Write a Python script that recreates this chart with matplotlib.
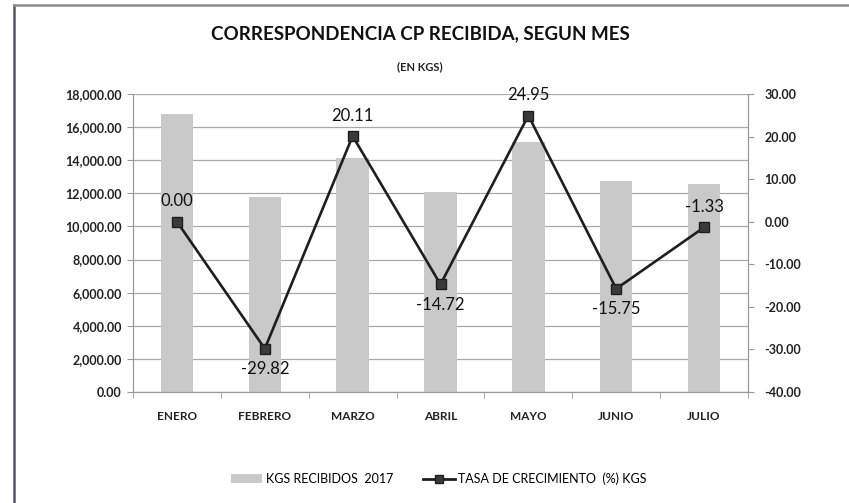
import matplotlib
matplotlib.use("Agg")
import matplotlib.pyplot as plt
from matplotlib.ticker import FuncFormatter, MultipleLocator
from matplotlib.lines import Line2D
from matplotlib.patches import Patch

months = ["ENERO", "FEBRERO", "MARZO", "ABRIL", "MAYO", "JUNIO", "JULIO"]
kgs = [16800, 11790, 14160, 12080, 15090, 12720, 12550]
rate = [0.00, -29.82, 20.11, -14.72, 24.95, -15.75, -1.33]
label_above = [True, False, True, False, True, False, True]

plt.rcParams['font.family'] = ['Lato', 'DejaVu Sans']

W, H = 849, 503
fig = plt.figure(figsize=(8.49, 5.03), dpi=100)
fig.patch.set_facecolor('white')
# chart frame (continues beyond the picture on the right and bottom)
fig.add_artist(Line2D([14 / W, 14 / W], [0, 1 - 5 / H], transform=fig.transFigure,
                      color='#5a5470', linewidth=1.8))
fig.add_artist(Line2D([14 / W, 1], [1 - 5 / H, 1 - 5 / H], transform=fig.transFigure,
                      color='#8c8c8c', linewidth=1.8))

ax = fig.add_axes([0.1567, 0.2207, 0.7243, 0.5924])
x = list(range(len(months)))
ax.bar(x, kgs, width=0.37, color='#c9c9c9', zorder=2)
ax.set_xlim(-0.5, len(months) - 0.5)
ax.set_ylim(0, 18000)
ax.yaxis.set_major_locator(MultipleLocator(2000))
ax.yaxis.set_major_formatter(FuncFormatter(lambda v, p: f"{v:,.2f}"))
ax.grid(axis='y', color='#a8a8a8', linewidth=0.9, zorder=0)
ax.set_xticks(x)
ax.set_xticklabels(months)
ax.set_xticks([i + 0.5 for i in range(-1, len(months))], minor=True)
ax.tick_params(axis='x', which='major', length=0, pad=14, labelsize=8.5, labelcolor='#222222')
ax.tick_params(axis='x', which='minor', length=4, color='#999999', direction='out')
ax.tick_params(axis='y', length=4, color='#999999', labelsize=9, labelcolor='#222222', pad=4)
for lbl in ax.get_xticklabels() + ax.get_yticklabels():
    lbl.set_fontweight('bold')
ax.spines['top'].set_visible(False)
for s in ['left', 'bottom', 'right']:
    ax.spines[s].set_color('#999999')

ax2 = ax.twinx()
ax2.set_ylim(-40, 30)
ax2.yaxis.set_major_locator(MultipleLocator(10))
ax2.yaxis.set_major_formatter(FuncFormatter(lambda v, p: f"{v:.2f}"))
ax2.tick_params(axis='y', length=4, color='#999999', labelsize=9, labelcolor='#222222', pad=8)
for lbl in ax2.get_yticklabels():
    lbl.set_fontweight('bold')
ax2.spines['top'].set_visible(False)
for s in ['left', 'bottom', 'right']:
    ax2.spines[s].set_color('#999999')
ax2.plot(x, rate, color='#1e1e1e', linewidth=1.9, marker='s', markersize=7,
         markerfacecolor='#3a3a3a', markeredgecolor='#1e1e1e', zorder=3)
for xi, r, up in zip(x, rate, label_above):
    ax2.annotate(f"{r:.2f}", (xi, r), xytext=(0, 9 if up else -9), textcoords='offset points',
                 ha='center', va='bottom' if up else 'top', fontsize=12, color='#111111')

fig.text(0.495, 0.933, "CORRESPONDENCIA CP RECIBIDA, SEGUN MES", ha='center', va='center',
         fontsize=13.5, fontweight='bold', color='#111111')
fig.text(0.495, 0.867, "(EN KGS)", ha='center', va='center', fontsize=8, fontweight='bold', color='#222222')

handles = [Patch(facecolor='#c9c9c9', edgecolor='none'),
           Line2D([0], [0], color='#1e1e1e', linewidth=2, marker='s', markersize=6,
                  markerfacecolor='#3a3a3a')]
fig.legend(handles, ["KGS RECIBIDOS  2017", "TASA DE CRECIMIENTO  (%) KGS"], loc='center',
           bbox_to_anchor=(0.517, 0.048), ncol=2, frameon=False, fontsize=9,
           handlelength=2.5, handleheight=0.7, columnspacing=2.4, handletextpad=0.3)

fig.savefig("out.png", dpi=100, facecolor='white')
